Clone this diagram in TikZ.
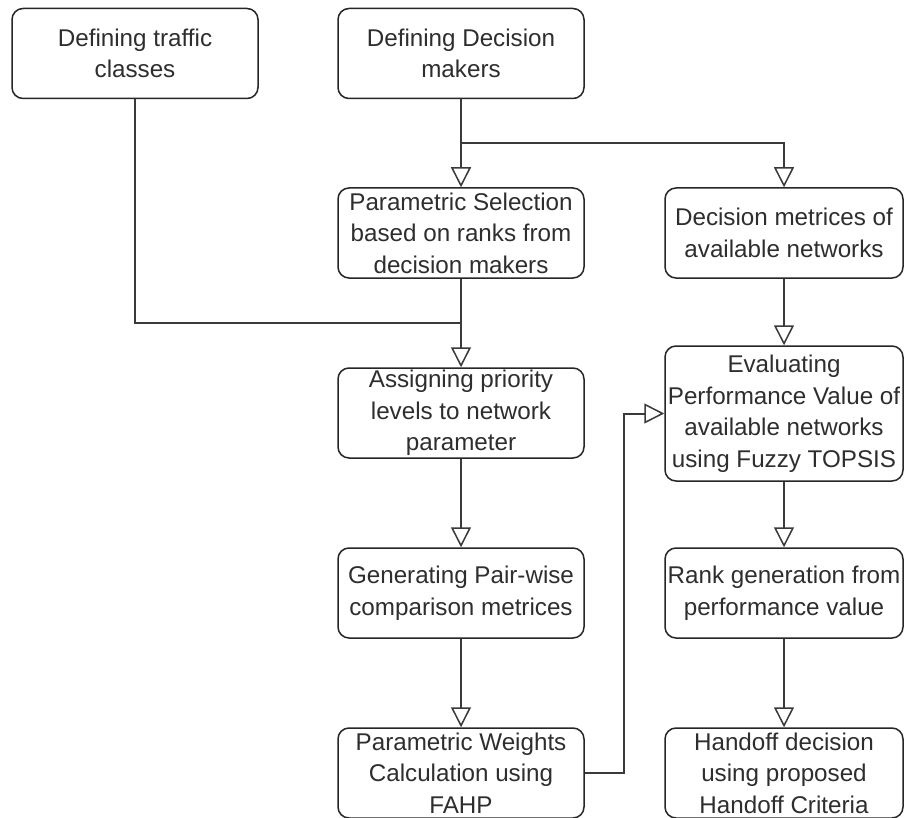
\documentclass[tikz,border=0pt]{standalone}
\usepackage{fontspec}
\setmainfont{Liberation Sans}
\usetikzlibrary{arrows.meta}

\definecolor{boxgray}{HTML}{262626}
\definecolor{linegray}{HTML}{3A3A3A}
\definecolor{textgray}{HTML}{2E2E2E}

% one centred line that may run past the box edge on both sides
\newcommand\ctrline[1]{\makebox[\linewidth]{#1}}
% fixed-size text block, so long labels do not grow the box
\newcommand\boxtext[1]{\parbox[c][60pt][c]{220pt}{#1}}

\tikzset{
  flowbox/.style={draw=boxgray, line width=1.5pt, rounded corners=11pt,
    fill=white, minimum height=90pt, inner sep=0pt, text=textgray,
    font=\fontsize{24.2}{31.5}\selectfont},
  leftbox/.style={flowbox, minimum width=246pt},
  rightbox/.style={flowbox, minimum width=238pt},
  flowline/.style={draw=linegray, line width=2pt},
  flowarrow/.style={flowline,
    -{Triangle[length=20pt, width=20pt, fill=white, line width=1.5pt]}},
}

\begin{document}
\begin{tikzpicture}[x=1pt, y=-1pt]
\useasboundingbox (0,0) rectangle (904,818);
\clip (0,0) rectangle (904,818);
\fill[white] (0,0) rectangle (904,818);

% top row
\node[leftbox] (traffic) at (135,53.5)
  {\boxtext{\ctrline{Defining traffic}\\\ctrline{classes}}};
\node[leftbox] (makers) at (461,53.5)
  {\boxtext{\ctrline{Defining Decision}\\\ctrline{makers}}};

% left column: weighting with FAHP
\node[leftbox] (paramsel) at (461,233)
  {\boxtext{\ctrline{Parametric Selection}\\\ctrline{based on ranks from}\\\ctrline{decision makers}}};
\node[leftbox] (assign) at (461,413)
  {\boxtext{\ctrline{Assigning priority}\\\ctrline{levels to network}\\\ctrline{parameter}}};
\node[leftbox] (pairwise) at (461,593)
  {\boxtext{\ctrline{Generating Pair-wise}\\\ctrline{comparison metrices}}};
\node[leftbox] (weights) at (461,773)
  {\boxtext{\ctrline{Parametric Weights}\\\ctrline{Calculation using}\\\ctrline{FAHP}}};

% right column: ranking with Fuzzy TOPSIS
\node[rightbox] (metrics) at (784,233)
  {\boxtext{\ctrline{Decision metrices of}\\\ctrline{available networks}}};
\node[rightbox, minimum height=135pt] (evaluate) at (784,413.5)
  {\boxtext{\ctrline{Evaluating}\\\ctrline{Performance Value of}\\\ctrline{available networks}\\\ctrline{using Fuzzy TOPSIS}}};
\node[rightbox] (rank) at (784,593)
  {\boxtext{\ctrline{Rank generation from}\\\ctrline{performance value}}};
\node[rightbox] (handoff) at (784,773)
  {\boxtext{\ctrline{Handoff decision}\\\ctrline{using proposed}\\\ctrline{Handoff Criteria}}};

% junction and bend points
\coordinate (split) at (461,143);
\coordinate (merge) at (461,323);
\coordinate (bend) at (624,773);

% connectors
\draw[flowarrow] (makers.south) -- (paramsel.north);
\draw[flowarrow] (split) -| (metrics.north);
\draw[flowline] (traffic.south) |- (merge);
\draw[flowarrow] (paramsel.south) -- (assign.north);
\draw[flowarrow] (assign.south) -- (pairwise.north);
\draw[flowarrow] (pairwise.south) -- (weights.north);
\draw[flowarrow] (weights.east) -- (bend) |- (evaluate.west);
\draw[flowarrow] (metrics.south) -- (evaluate.north);
\draw[flowarrow] (evaluate.south) -- (rank.north);
\draw[flowarrow] (rank.south) -- (handoff.north);
\end{tikzpicture}
\end{document}
